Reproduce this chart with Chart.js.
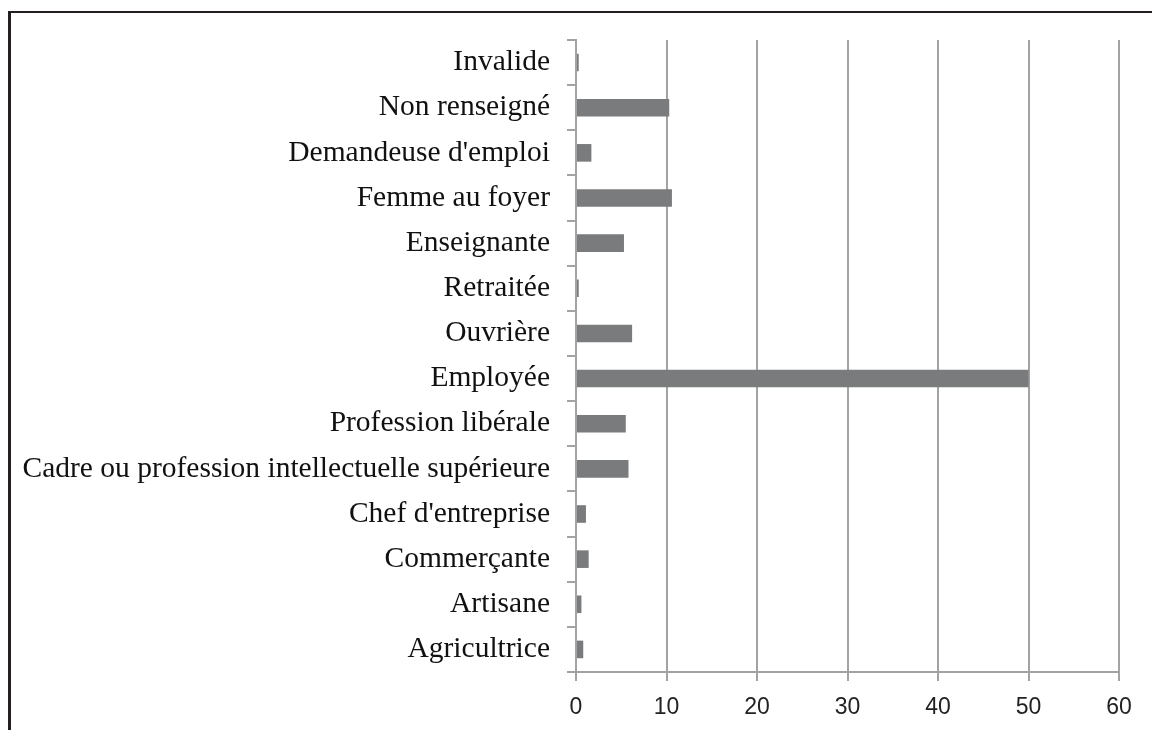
<!DOCTYPE html>
<html>
<head>
<meta charset="utf-8">
<script src="https://cdn.jsdelivr.net/npm/chart.js@4/dist/chart.umd.min.js"></script>
<style>
  html, body { margin:0; padding:0; background:#fff; overflow:hidden; width:1152px; height:730px; }
  #frame { position:absolute; left:8px; top:11px; width:1300px; height:900px; border-top:2px solid #231f20; border-left:3px solid #231f20; }
  #wrap { position:absolute; left:0; top:0; width:1152px; height:730px; }
</style>
</head>
<body>
<div id="frame"></div>
<div id="wrap"><canvas id="c"></canvas></div>
<script>
const categories = [
  "Invalide",
  "Non renseigné",
  "Demandeuse d'emploi",
  "Femme au foyer",
  "Enseignante",
  "Retraitée",
  "Ouvrière",
  "Employée",
  "Profession libérale",
  "Cadre ou profession intellectuelle supérieure",
  "Chef d'entreprise",
  "Commerçante",
  "Artisane",
  "Agricultrice"
];
const values = [0.3, 10.3, 1.7, 10.6, 5.3, 0.3, 6.2, 50, 5.5, 5.8, 1.1, 1.4, 0.6, 0.8];
const xMin = 0, xMax = 60, xStep = 10;

const gridColor = '#a3a3a3';

new Chart(document.getElementById('c'), {
  type: 'bar',
  data: {
    labels: categories,
    datasets: [{
      data: values,
      backgroundColor: '#7a7b7d',
      borderWidth: 0,
      barPercentage: 0.39,
      categoryPercentage: 1.0
    }]
  },
  options: {
    indexAxis: 'y',
    responsive: true,
    maintainAspectRatio: false,
    animation: false,
    layout: { padding: { left: 0, top: 40, right: 33, bottom: 0 } },
    plugins: { legend: { display: false }, tooltip: { enabled: false } },
    scales: {
      x: {
        min: xMin, max: xMax,
        ticks: { stepSize: xStep, color: '#222', padding: 13,
                 font: { family: 'Liberation Sans', size: 23 } },
        grid: { color: gridColor, lineWidth: 2, tickLength: 9, drawTicks: true },
        border: { color: gridColor, width: 2 },
        afterFit: (s) => { s.height = 730 - 672; }
      },
      y: {
        ticks: { color: '#111', padding: 17,
                 font: { family: 'Liberation Serif', size: 29.5 } },
        grid: { drawOnChartArea: false, color: gridColor, lineWidth: 2, tickLength: 9, offset: true },
        border: { color: gridColor, width: 2 },
        afterFit: (s) => { s.width = 576; }
      }
    }
  }
});
</script>
</body>
</html>
